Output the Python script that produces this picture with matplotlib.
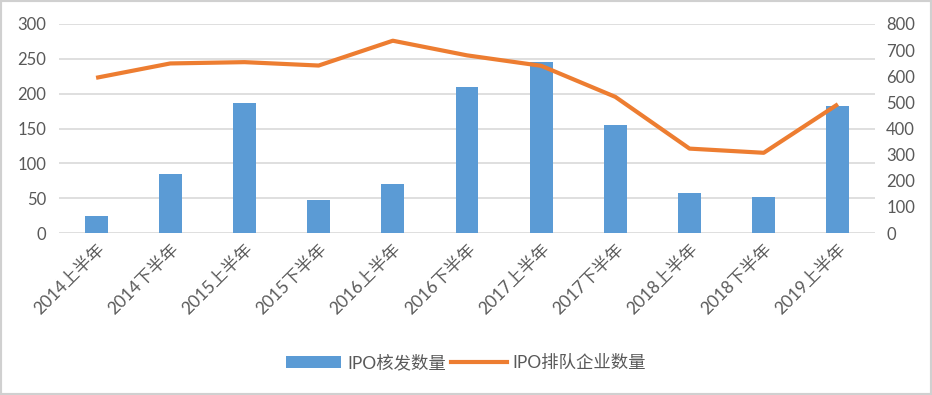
import matplotlib
matplotlib.use("Agg")
import matplotlib.pyplot as plt
from matplotlib.patches import Rectangle
from matplotlib.lines import Line2D
from matplotlib.patches import Patch

plt.rcParams['font.family'] = ['Lato', 'Noto Sans CJK SC', 'DejaVu Sans']

categories = ["2014上半年", "2014下半年", "2015上半年", "2015下半年", "2016上半年",
              "2016下半年", "2017上半年", "2017下半年", "2018上半年", "2018下半年", "2019上半年"]
ipo_approved = [24, 84, 186, 47, 70, 209, 245, 155, 57, 51, 182]
ipo_queue = [594, 649, 654, 641, 736, 680, 640, 521, 323, 307, 493]
left_ticks = [0, 50, 100, 150, 200, 250, 300]
right_ticks = [0, 100, 200, 300, 400, 500, 600, 700, 800]

text_color = "#595959"
grid_color = "#d9d9d9"
bar_color = "#5B9BD5"
line_color = "#ED7D31"

fig = plt.figure(figsize=(9.32, 3.95), dpi=100)
ax = fig.add_axes([59/932, 1-233/395, (875-59)/932, (233-24)/395])
ax2 = ax.twinx()

x = list(range(len(categories)))
ax.bar(x, ipo_approved, width=0.31, color=bar_color, zorder=2)
ax2.plot(x, ipo_queue, color=line_color, linewidth=3.0, solid_capstyle='butt', zorder=3)

ax.set_xlim(-0.5, len(categories) - 0.5)
ax.set_ylim(0, 300)
ax2.set_ylim(0, 800)
ax.set_yticks(left_ticks)
ax2.set_yticks(right_ticks)
ax.yaxis.grid(True, color=grid_color, linewidth=1.2, zorder=0)
ax.set_axisbelow(True)

for a in (ax, ax2):
    for s in a.spines.values():
        s.set_visible(False)
    a.tick_params(length=0, colors=text_color, labelsize=12)
ax.tick_params(axis='y', pad=9)
ax2.tick_params(axis='y', pad=8)

ax.set_xticks(x)
ax.set_xticklabels(categories, rotation=45, ha='right', va='top',
                   rotation_mode='anchor', fontsize=12.5, color=text_color)
ax.tick_params(axis='x', pad=6)

handles = [Patch(facecolor=bar_color, edgecolor='none'),
           Line2D([0], [0], color=line_color, linewidth=3.0)]
fig.legend(handles, ["IPO核发数量", "IPO排队企业数量"], loc='center',
           bbox_to_anchor=(0.5, 1-363/395), ncol=2, frameon=False,
           fontsize=12.5, labelcolor=text_color, handlelength=3.2,
           handletextpad=0.35, columnspacing=0.3)

fig.add_artist(Rectangle((0, 0), 1, 1, transform=fig.transFigure, fill=False,
                         edgecolor="#d0d0d0", linewidth=3))

fig.savefig("out.png", dpi=100)
